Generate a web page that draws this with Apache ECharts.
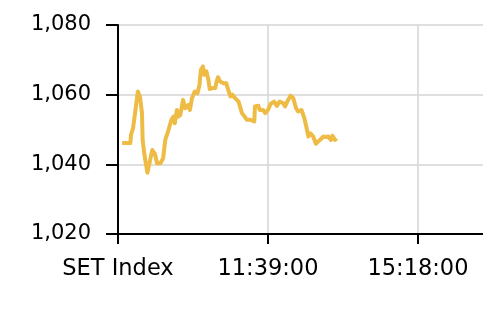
<!DOCTYPE html>
<html>
<head>
<meta charset="utf-8">
<script src="https://cdn.jsdelivr.net/npm/echarts@6/dist/echarts.min.js"></script>
<style>html,body{margin:0;padding:0;background:#fff}#c{width:483px;height:322px}</style>
</head>
<body>
<div id="c"></div>
<script>
// minutes after 08:00:00 (first axis tick, labelled "SET Index")
const minutes = [6,18,19,22,25,29,32,35,36,39,43,47,50,54,57,62,66,69,73,78,81,83,86,88,91,95,98,103,105,108,112,116,119,121,124,126,129,132,134,138,142,144,146,149,151,154,158,161,164,167,171,173,176,178,181,185,188,193,199,200,205,207,212,215,219,223,228,232,236,241,244,247,252,256,260,263,268,272,275,278,281,285,289,292,296,300,304,307,311,313,317,319];
const setIndex = [1046.1,1046.1,1048.5,1050.4,1054.8,1060.9,1059.5,1054.8,1047.0,1042.2,1037.6,1041.3,1044.1,1043.0,1040.3,1040.3,1041.8,1047.0,1049.4,1052.8,1053.7,1051.8,1055.6,1053.7,1054.2,1058.5,1056.1,1057.1,1055.6,1059.0,1060.9,1060.4,1062.8,1067.1,1068.1,1065.7,1066.7,1064.3,1061.6,1061.9,1061.9,1063.8,1065.0,1063.8,1064.3,1063.3,1063.3,1061.4,1059.5,1060.0,1059.0,1058.5,1058.0,1058.5,1054.7,1053.7,1052.8,1052.8,1052.3,1056.6,1056.8,1055.6,1055.6,1054.7,1055.6,1057.4,1058.0,1056.8,1058.0,1057.6,1056.6,1058.0,1059.7,1059.0,1056.1,1055.2,1055.6,1053.3,1050.8,1048.0,1048.9,1048.0,1045.9,1046.5,1047.2,1048.0,1047.8,1048.0,1047.0,1048.2,1047.0,1047.5];
const yTicks = [1020, 1040, 1060, 1080];
const xTicks = [0, 219, 438];
const firstLabel = 'SET Index';
const startHour = 8;

const chart = echarts.init(document.getElementById('c'), null, {renderer: 'canvas'});
const fmtTime = v => {
  const t = startHour * 60 + v;
  const h = Math.floor(t / 60), m = t % 60;
  return h + ':' + String(m).padStart(2, '0') + ':00';
};
chart.setOption({
  animation: false,
  grid: {left: 118, right: 0, top: 25, bottom: 88},
  xAxis: {
    type: 'value', min: 0, max: 533, interval: 219,
    axisLine: {lineStyle: {color: '#000', width: 2}},
    axisTick: {show: true, length: 10, customValues: xTicks, lineStyle: {color: '#000', width: 2}},
    axisLabel: {
      fontFamily: 'DejaVu Sans', fontSize: 22.5, color: '#000', margin: 24,
      customValues: xTicks,
      formatter: v => v === 0 ? firstLabel : fmtTime(v)
    },
    splitLine: {show: true, lineStyle: {color: '#d4d4d4', width: 1.5}}
  },
  yAxis: {
    type: 'value', min: yTicks[0], max: yTicks[yTicks.length - 1], interval: 20,
    axisLine: {show: true, lineStyle: {color: '#000', width: 2}},
    axisTick: {show: true, length: 12, lineStyle: {color: '#000', width: 2}},
    axisLabel: {
      fontFamily: 'DejaVu Sans', fontSize: 21, color: '#000', margin: 27,
      formatter: v => v.toLocaleString('en-US')
    },
    splitLine: {show: true, lineStyle: {color: '#d4d4d4', width: 1.5}}
  },
  series: [{
    type: 'line',
    data: minutes.map((m, i) => [m, setIndex[i]]),
    showSymbol: false,
    lineStyle: {color: '#eebb44', width: 4, join: 'round'},
    itemStyle: {color: '#eebb44'}
  }]
});
</script>
</body>
</html>
